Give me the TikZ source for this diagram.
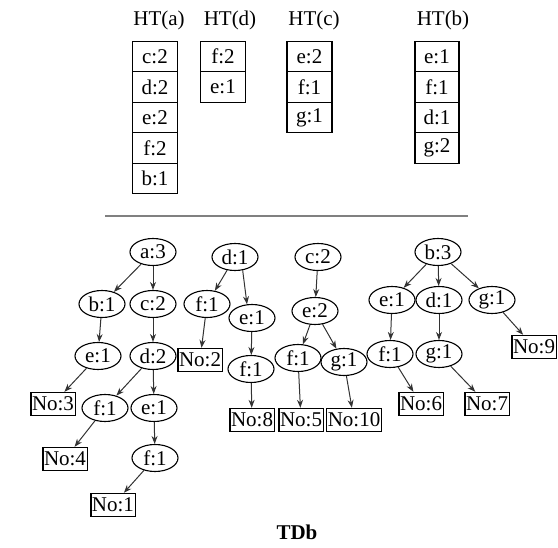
\documentclass[tikz,border=0pt]{standalone}
\usepackage{fontspec}
\setmainfont{Liberation Serif}
\usetikzlibrary{arrows.meta,shapes.geometric}

\begin{document}
\begin{tikzpicture}[x=1pt,y=-1pt,
  font=\fontsize{21}{23}\selectfont,
  arr/.style={-{Stealth[length=8pt,width=6pt]},line width=1pt,black!80},
  tnode/.style={ellipse,draw,line width=1.1pt,minimum width=46pt,minimum height=27pt,inner sep=0pt},
  leaf/.style={rectangle,draw,line width=1.4pt,minimum height=23pt,inner sep=1.2pt},
  cell/.style={rectangle,draw,line width=1.4pt,minimum width=45pt,minimum height=30.5pt,inner sep=0pt}]
  \useasboundingbox (0,0) rectangle (558,548);
  % Header tables
  \node (hta) at (159,20) {HT(a)};
  \node (htd) at (230,20) {HT(d)};
  \node (htc) at (314,20) {HT(c)};
  \node (htb) at (443,20) {HT(b)};
  \foreach \t [count=\i] in {c:2,d:2,e:2,f:2,b:1}
    \node[cell] (ha\i) at (155,{26+30.5*\i}) {\t};
  \foreach \t [count=\i] in {f:2,e:1}
    \node[cell] (hd\i) at (223,{26+30.5*\i}) {\t};
  \foreach \t [count=\i] in {e:2,f:1,g:1}
    \node[cell] (hc\i) at (309.5,{26+30.5*\i}) {\t};
  \foreach \t [count=\i] in {e:1,f:1,d:1,g:2}
    \node[cell,minimum width=44pt] (hb\i) at (437,{26+30.5*\i}) {\t};
  % Separator
  \coordinate (sepl) at (105,216);
  \coordinate (sepr) at (468,216);
  \draw[line width=1.4pt,gray] (sepl) -- (sepr);
  % Tree a
  \node[tnode] (a3)   at (153,252) {a:3};
  \node[tnode] (ab1)  at (102,304) {b:1};
  \node[tnode] (ac2)  at (153,304) {c:2};
  \node[tnode] (ae1)  at (98,356)  {e:1};
  \node[tnode] (ad2)  at (153,356) {d:2};
  \node[leaf]  (no3)  at (53,404)  {No:3};
  \node[tnode] (af1)  at (105,408) {f:1};
  \node[tnode] (ae1b) at (154,408) {e:1};
  \node[leaf]  (no4)  at (65,459)  {No:4};
  \node[tnode] (af1b) at (155,458) {f:1};
  \node[leaf]  (no1)  at (113,505) {No:1};
  \draw[arr] (a3) -- (ab1);
  \draw[arr] (a3) -- (ac2);
  \draw[arr] (ab1) -- (ae1);
  \draw[arr] (ac2) -- (ad2);
  \draw[arr] (ae1) -- (no3);
  \draw[arr] (ad2) -- (af1);
  \draw[arr] (ad2) -- (ae1b);
  \draw[arr] (af1) -- (no4);
  \draw[arr] (ae1b) -- (af1b);
  \draw[arr] (af1b) -- (no1);
  % Tree d
  \node[tnode] (d1)   at (235,257) {d:1};
  \node[tnode] (df1)  at (207,304) {f:1};
  \node[tnode] (de1)  at (252,318) {e:1};
  \node[leaf]  (no2)  at (200,360) {No:2};
  \node[tnode] (df1b) at (251,369) {f:1};
  \node[leaf]  (no8)  at (252,420) {No:8};
  \draw[arr] (d1) -- (df1);
  \draw[arr] (d1.-60) -- (de1.110);
  \draw[arr] (df1) -- (no2);
  \draw[arr] (de1) -- (df1b);
  \draw[arr] (df1b) -- (no8);
  % Tree c
  \node[tnode] (c2)   at (318,257) {c:2};
  \node[tnode] (ce2)  at (315,311) {e:2};
  \node[tnode] (cf1)  at (298,358) {f:1};
  \node[tnode] (cg1)  at (344,362) {g:1};
  \node[leaf]  (no5)  at (301,420) {No:5};
  \node[leaf]  (no10) at (354,420) {No:10};
  \draw[arr] (c2) -- (ce2);
  \draw[arr] (ce2) -- (cf1);
  \draw[arr] (ce2) -- (cg1);
  \draw[arr] (cf1) -- (no5);
  \draw[arr] (cg1) -- (no10);
  % Tree b
  \node[tnode] (b3)   at (438,252) {b:3};
  \node[tnode] (be1)  at (392,300) {e:1};
  \node[tnode] (bd1)  at (439,300) {d:1};
  \node[tnode] (bg1)  at (492,300) {g:1};
  \node[tnode] (bf1)  at (390,354) {f:1};
  \node[tnode] (bg1b) at (439,354) {g:1};
  \node[leaf]  (no9)  at (534,347) {No:9};
  \node[leaf]  (no6)  at (421,404) {No:6};
  \node[leaf]  (no7)  at (487,404) {No:7};
  \draw[arr] (b3) -- (be1);
  \draw[arr] (b3) -- (bd1);
  \draw[arr] (b3) -- (bg1);
  \draw[arr] (be1) -- (bf1);
  \draw[arr] (bd1) -- (bg1b);
  \draw[arr] (bg1) -- (no9);
  \draw[arr] (bf1) -- (no6);
  \draw[arr] (bg1b) -- (no7);
  % Caption
  \node[font=\fontsize{21}{23}\selectfont\bfseries] (cap) at (297,532) {TDb};
\end{tikzpicture}
\end{document}
